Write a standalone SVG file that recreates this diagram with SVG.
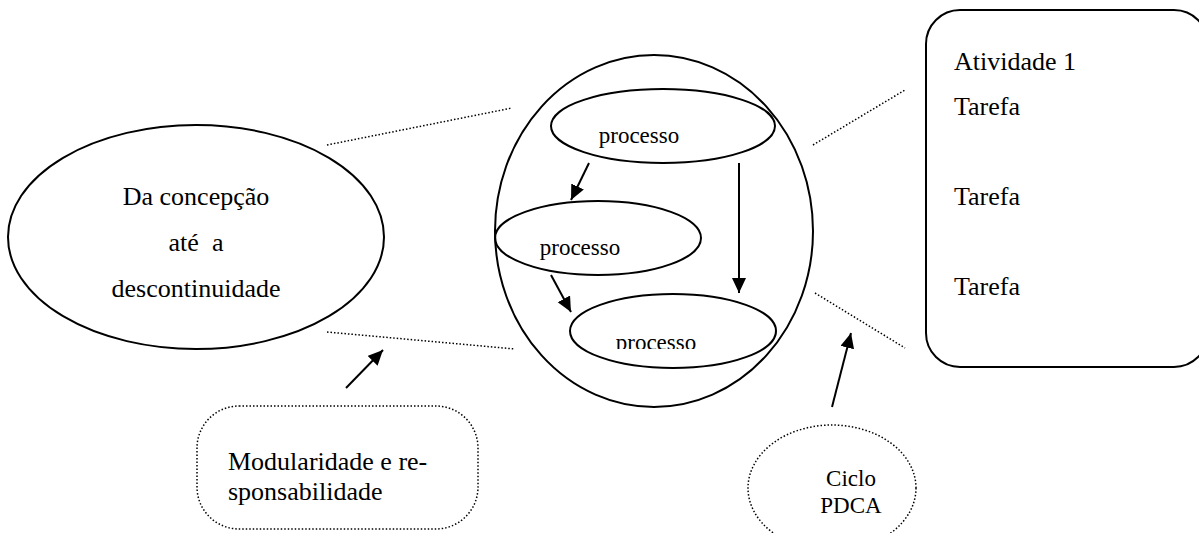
<svg xmlns="http://www.w3.org/2000/svg" width="1199" height="533" viewBox="0 0 1199 533">
  <style>
    .shape { fill: none; stroke: #000; stroke-width: 2; }
    .dotshape { fill: none; stroke: #000; stroke-width: 1.5; stroke-dasharray: 1.5 2; }
    .dotline { stroke: #000; stroke-width: 1.5; stroke-dasharray: 1.5 2; fill: none; }
    .arrow { stroke: #000; stroke-width: 2; fill: none; marker-end: url(#head); }
    .big { font-size: 26px; }
    .small { font-size: 23px; }
  </style>
  <defs>
    <marker id="head" markerUnits="userSpaceOnUse" markerWidth="16" markerHeight="16" refX="15" refY="7" orient="auto">
      <path d="M0,0 L15,7 L0,14 Z" fill="#000"/>
    </marker>
    <clipPath id="cut3">
      <rect x="560" y="280" width="230" height="69"/>
    </clipPath>
  </defs>

  <rect width="1199" height="533" fill="#fff"/>

  <g font-family="'Liberation Serif', 'Times New Roman', Tinos, 'DejaVu Serif', serif" fill="#000">
    <!-- life-cycle ellipse -->
    <g id="lifecycle">
      <ellipse class="shape" cx="196" cy="237" rx="188" ry="112"/>
      <text class="big" x="196" y="205" text-anchor="middle">Da concepção</text>
      <text class="big" x="196" y="251" text-anchor="middle" xml:space="preserve">até  a</text>
      <text class="big" x="196" y="297" text-anchor="middle">descontinuidade</text>
    </g>

    <!-- process container -->
    <g id="container">
      <ellipse class="shape" cx="654" cy="231" rx="159" ry="176"/>
    </g>
    <g id="process1">
      <ellipse class="shape" cx="663" cy="126" rx="112" ry="37"/>
      <text class="small" x="639" y="143" text-anchor="middle">processo</text>
    </g>
    <g id="process2">
      <ellipse class="shape" cx="598" cy="238" rx="103" ry="37"/>
      <text class="small" x="580" y="255" text-anchor="middle">processo</text>
    </g>
    <g id="process3">
      <ellipse class="shape" cx="673" cy="331" rx="103" ry="37"/>
      <text class="small" x="656" y="350" text-anchor="middle" clip-path="url(#cut3)">processo</text>
    </g>

    <!-- activity box -->
    <g id="activity">
      <rect class="shape" x="926" y="10" width="282" height="357" rx="34" ry="34"/>
      <text class="big" x="954" y="70">Atividade 1</text>
      <text class="big" x="954" y="115">Tarefa</text>
      <text class="big" x="954" y="205">Tarefa</text>
      <text class="big" x="954" y="295">Tarefa</text>
    </g>

    <!-- modularity note -->
    <g id="modularity">
      <rect class="dotshape" x="197" y="406" width="281" height="123" rx="42" ry="42"/>
      <text class="big" x="228" y="470">Modularidade e re-</text>
      <text class="big" x="228" y="500">sponsabilidade</text>
    </g>

    <!-- PDCA note -->
    <g id="pdca">
      <ellipse class="dotshape" cx="832" cy="488" rx="84" ry="63"/>
      <text class="small" x="851" y="486" text-anchor="middle">Ciclo</text>
      <text class="small" x="851" y="513" text-anchor="middle">PDCA</text>
    </g>
  </g>

  <!-- connectors -->
  <g id="connectors">
    <line class="dotline" x1="327" y1="145" x2="512" y2="108"/>
    <line class="dotline" x1="327" y1="332" x2="515" y2="349"/>
    <line class="dotline" x1="813" y1="145" x2="905" y2="90"/>
    <line class="dotline" x1="815" y1="293" x2="905" y2="348"/>
    <line class="arrow" x1="589" y1="163" x2="571" y2="200"/>
    <line class="arrow" x1="551" y1="275" x2="571" y2="312"/>
    <line class="arrow" x1="739" y1="163" x2="739" y2="293"/>
    <line class="arrow" x1="346" y1="388" x2="383" y2="350"/>
    <line class="arrow" x1="832" y1="407" x2="851" y2="333"/>
  </g>
</svg>
